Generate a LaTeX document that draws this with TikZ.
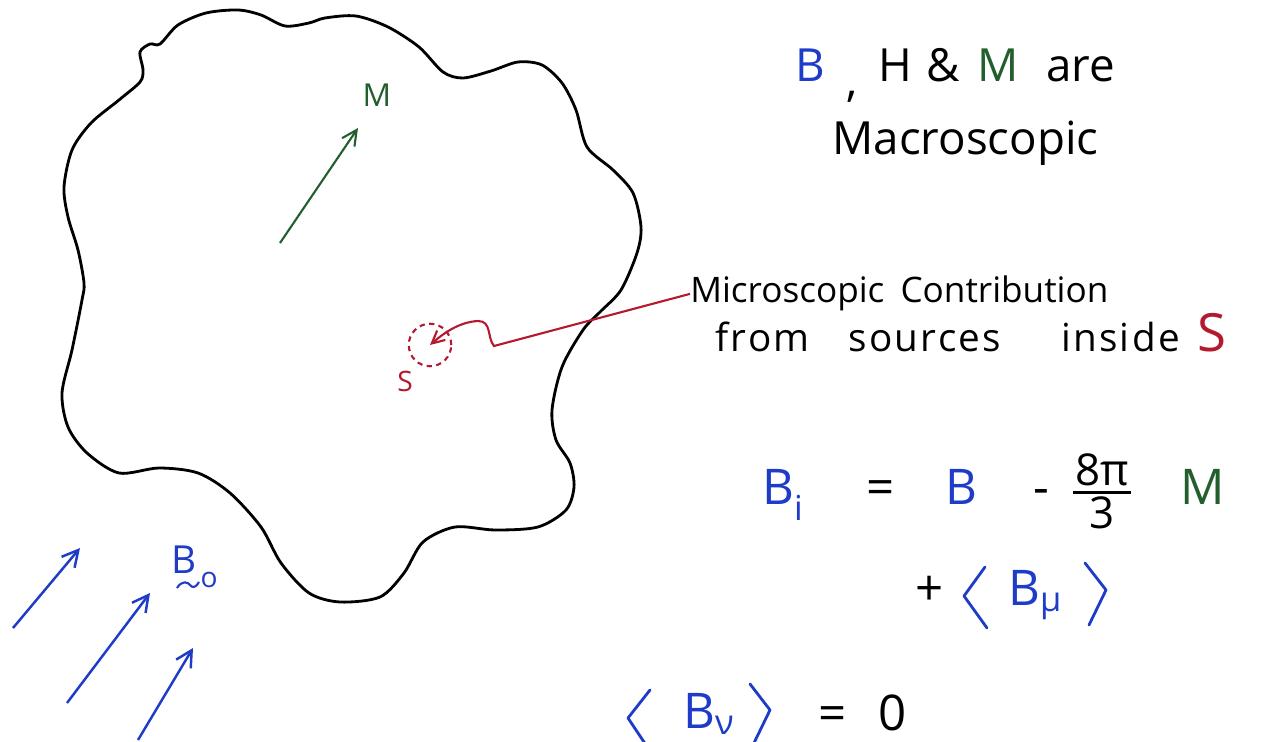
\documentclass[tikz,border=0pt]{standalone}
\usepackage{amsmath}
\usepackage{fontspec}
\setmainfont{Open Sans}
\newfontfamily\spacedfont[LetterSpace=6]{Open Sans}
\usepackage{tikz}
\usetikzlibrary{arrows.meta, positioning, calc}
\usepackage{xcolor}
\definecolor{penBlue}{RGB}{30, 60, 200}
\definecolor{penGreen}{RGB}{35, 95, 45}
\definecolor{penRed}{RGB}{180, 25, 45}

\begin{document}
\begin{tikzpicture}[
        x=0.02cm, y=-0.02cm,
        font=\fontsize{26}{30}\selectfont,
        outline/.style={draw=black, line width=1.6pt},
        fieldarrow/.style={-{Straight Barb[length=3.2mm, width=3.4mm]}, line width=1.4pt, penBlue},
        magarrow/.style={-{Straight Barb[length=3mm, width=3mm]}, line width=1.2pt, penGreen},
        microarrow/.style={-{Straight Barb[length=2.5mm, width=2.5mm]}, line width=1.2pt, penRed},
        source/.style={circle, draw=penRed, line width=1.2pt, dash pattern=on 3pt off 2.5pt, minimum size=0.85cm, inner sep=0pt},
        bracket/.style={draw=penBlue, line width=1.6pt, line cap=round, line join=round},
        note/.style={anchor=base west, inner sep=0pt},
        small/.style={font=\fontsize{20}{24}\selectfont},
        big/.style={font=\fontsize{28}{32}\selectfont},
        fracpart/.style={inner sep=0pt, font=\fontsize{25}{27}\selectfont}
    ]
    \useasboundingbox (0,0) rectangle (1277,742);
    \fill[white] (0,0) rectangle (1277,742);

    \draw[outline] plot[smooth cycle] coordinates {
        (143,70) (140,52) (150,44) (160,44) (178,25) (206,13) (238,10) (261,15)
        (285,26) (309,23) (325,18) (356,16) (388,27) (419,47) (443,72) (463,78)
        (491,71) (518,62) (542,65) (562,83) (576,110) (587,147) (613,170) (633,193)
        (641,227) (637,253) (621,290) (600,312) (583,330) (562,367) (552,410) (556,440)
        (570,463) (574,487) (566,510) (538,527) (495,530) (455,527) (423,542) (404,573)
        (380,597) (340,602) (309,593) (281,563) (261,527) (230,493) (198,473) (159,468)
        (119,473) (87,453) (68,427) (62,393) (72,350) (82,300) (84,283) (78,250)
        (68,217) (64,187) (72,150) (91,123) (119,100) (140,82)};

    \node[penGreen, font=\fontsize{18}{20}\selectfont] (mlabel) at (377,95) {M};
    \coordinate (mtail) at (280,243);
    \coordinate (mtip) at (358,128);
    \draw[magarrow] (mtail) -- (mtip);

    \node[source] (src) at (430,345) {};
    \node[penRed, font=\fontsize{16}{18}\selectfont] (slabel) at (405,381) {S};

    \node[penBlue, font=\fontsize{22}{24}\selectfont] (bzero) at (184,560) {B};
    \node[penBlue, font=\fontsize{16}{18}\selectfont] (bsub) at (209,580) {o};
    \draw[penBlue, line width=1.2pt] (177,588) .. controls (182,580) and (188,582) .. (190,585) .. controls (192,588) and (196,588) .. (199,582);
    \foreach \i/\tx/\ty/\hx/\hy in {1/13/628/80/548, 2/67/703/150/593, 3/138/740/193/648} {
        \coordinate (tail\i) at (\tx,\ty);
        \coordinate (tip\i) at (\hx,\hy);
        \draw[fieldarrow] (tail\i) -- (tip\i);
    }

    \node[note] (macro1) at (795,82) {\textcolor{penBlue}{B}\hspace{12pt}\raisebox{-8pt}{,}\hspace{12pt}H\hspace{8pt}\&\hspace{10pt}\textcolor{penGreen}{M}\hspace{16pt}are};
    \node[note] (macro2) at (832,155) {Macroscopic};

    \node[note, small] (micro) at (690,303) {Microscopic\hspace{4pt} Contribution};
    \node[note, font=\spacedfont\fontsize{22}{26}\selectfont] (sources) at (715,352) {from\hspace{22pt}sources\hspace{34pt}inside\hspace{10pt}\textcolor{penRed}{\fontsize{30}{32}\selectfont S}};
    \draw[microarrow] (micro.west) -- (494,346) .. controls (487,338) and (492,321) .. (478,321) .. controls (460,322) and (445,332) .. (src.center);

    \node[note, penBlue, big] (bi) at (762,505) {B\textsubscript{\raisebox{-5pt}{i}}};
    \node[note, big] (eqa) at (866,505) {=};
    \node[note, penBlue, big] (bb) at (945,505) {B};
    \node[note, big] (minus) at (1033,505) {-};
    \node[fracpart] (fnum) at (1102,470) {8π};
    \node[fracpart] (fden) at (1102,513) {3};
    \draw[line width=1.2pt] ($(fnum.south west)+(-2,6)$) -- ($(fnum.south east)+(2,6)$);
    \node[note, penGreen, big] (mm) at (1180,505) {M};

    \node[note, big] (plus) at (915,605) {+};
    \draw[bracket] (985,567) -- (964,596) -- (987,628);
    \node[note, penBlue, big] (avga) at (1008,605) {B\textsubscript{μ}};
    \draw[bracket] (1085,563) -- (1106,590) -- (1089,625);

    \draw[bracket] (650,690) -- (628,718) -- (648,748);
    \node[note, penBlue, big] (avgb) at (683,728) {B\textsubscript{ν}};
    \draw[bracket] (750,684) -- (770,710) -- (753,745);
    \node[note, big] (zero) at (818,730) {=\hspace{18pt}0};
\end{tikzpicture}
\end{document}
